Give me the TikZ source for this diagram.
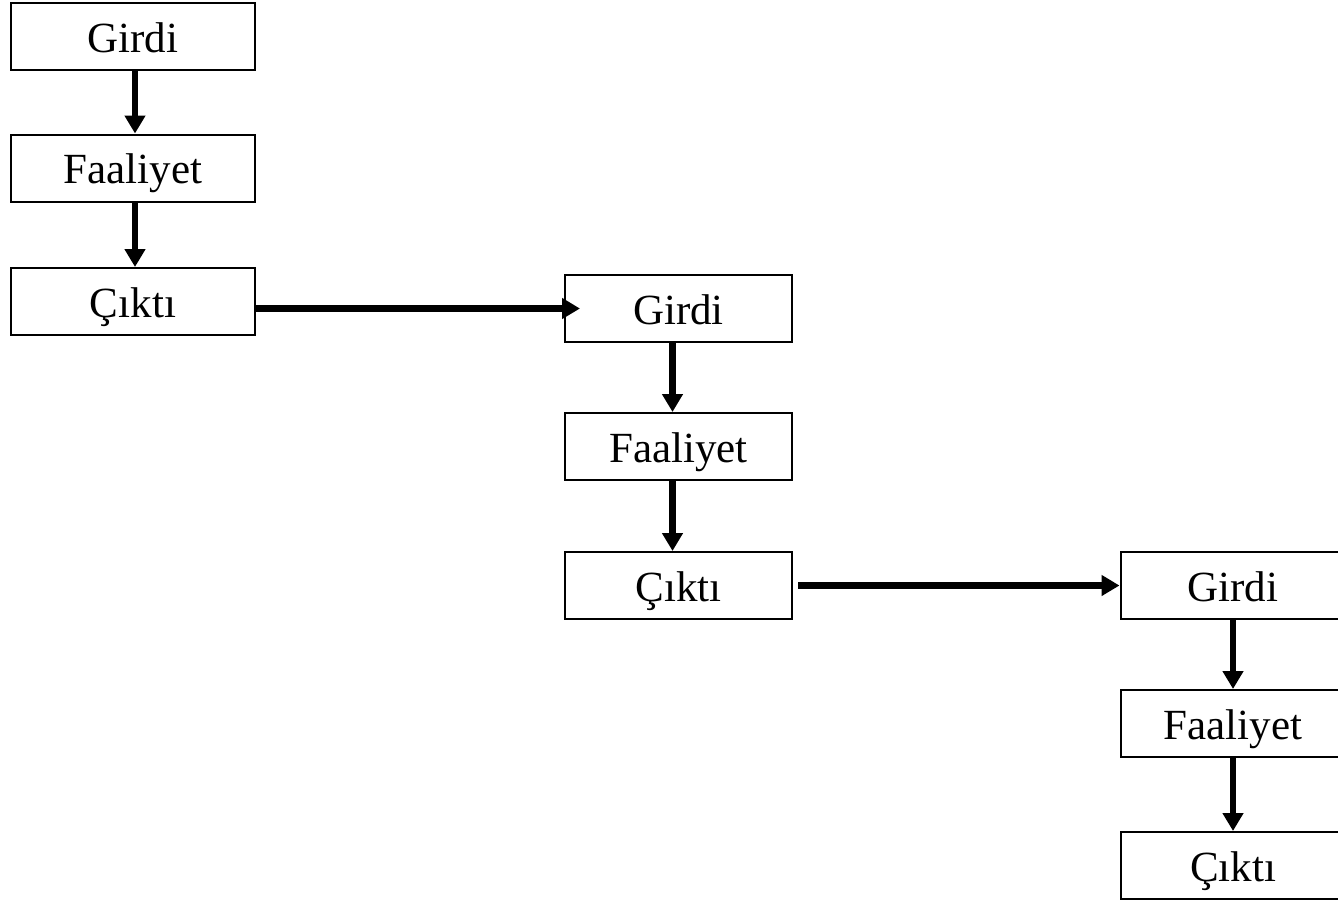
\documentclass[tikz,border=0pt]{standalone}
\usepackage{fontspec}
\setmainfont{Liberation Serif}
\usetikzlibrary{arrows.meta}
\tikzset{
  box/.style={draw, line width=2pt, minimum height=67pt, inner sep=0pt,
    text height=31pt, text depth=0pt, font=\fontsize{43}{50}\selectfont},
  arr/.style={line width=6.5pt, -{Triangle[length=18pt,width=20pt]}}
}
\begin{document}
\begin{tikzpicture}[x=1pt, y=-1pt]
\useasboundingbox (0,0) rectangle (1338,900);
%first stage
\node[box, minimum width=244pt] (g1) at (133,36.5) {Girdi};
\node[box, minimum width=244pt] (f1) at (133,168) {Faaliyet};
\node[box, minimum width=244pt] (c1) at (133,301.5) {Çıktı};
%second stage
\node[box, minimum width=227pt] (g2) at (678.5,308.5) {Girdi};
\node[box, minimum width=227pt] (f2) at (678.5,446.5) {Faaliyet};
\node[box, minimum width=227pt] (c2) at (678.5,585.5) {Çıktı};
%third stage
\node[box, minimum width=225pt] (g3) at (1233,585.5) {Girdi};
\node[box, minimum width=225pt] (f3) at (1233,723.5) {Faaliyet};
\node[box, minimum width=225pt] (c3) at (1233,865.5) {Çıktı};
%arrows
\draw[arr] ([xshift=2pt]g1.south) -- ([xshift=2pt]f1.north);
\draw[arr] ([xshift=2pt]f1.south) -- ([xshift=2pt]c1.north);
\draw[arr] (c1.east |- g2.west) -- ([xshift=16pt]g2.west);
\draw[arr] ([xshift=-6pt]g2.south) -- ([xshift=-6pt]f2.north);
\draw[arr] ([xshift=-6pt]f2.south) -- ([xshift=-6pt]c2.north);
\draw[arr] ([xshift=5pt]c2.east) -- (g3.west);
\draw[arr] (g3.south) -- (f3.north);
\draw[arr] (f3.south) -- (c3.north);
\end{tikzpicture}
\end{document}
